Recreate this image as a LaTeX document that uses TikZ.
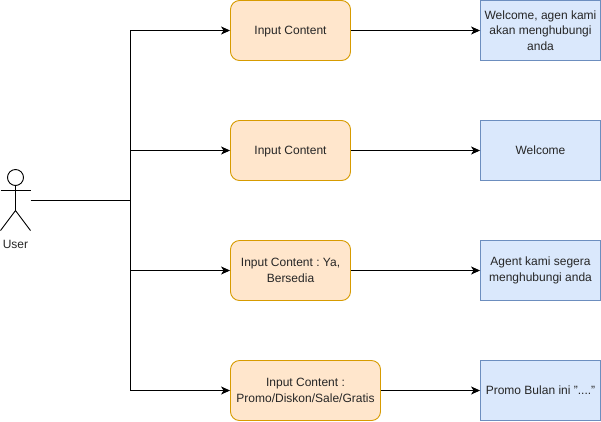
\documentclass[tikz,border=0pt]{standalone}
\usepackage{fontspec}
\setmainfont{Liberation Sans}
\usetikzlibrary{arrows.meta}
\frenchspacing
\definecolor{inputfill}{HTML}{FFE6CC}
\definecolor{inputline}{HTML}{D79B00}
\definecolor{replyfill}{HTML}{DAE8FC}
\definecolor{replyline}{HTML}{6C8EBF}
\tikzset{
  inputbox/.style={draw=inputline,fill=inputfill,rounded corners=9pt,minimum height=60pt,
    align=center,inner sep=1pt,text=black!85,font=\fontsize{12}{15.5}\selectfont,line width=0.9pt},
  replybox/.style={draw=replyline,fill=replyfill,minimum width=120pt,minimum height=60pt,
    align=center,inner sep=1pt,text=black!85,font=\fontsize{12}{15.5}\selectfont,line width=0.9pt},
  oneline/.style={text height=10pt,text depth=2.5pt},
  link/.style={draw=black,line width=0.9pt},
  arrowlink/.style={link,-{Stealth[length=9pt,width=8pt,inset=2.5pt]}}
}
\begin{document}
\begin{tikzpicture}[x=1pt,y=-1pt]
  \useasboundingbox (0,0) rectangle (601,421);
  % actor
  \node[draw,circle,minimum size=16pt,inner sep=0pt,line width=0.9pt] (head) at (15.5,177.5) {};
  \coordinate (hip) at (15.5,210.5);
  \coordinate (armL) at (0.5,190.5);
  \coordinate (armR) at (30.5,190.5);
  \coordinate (legL) at (0.5,230.5);
  \coordinate (legR) at (30.5,230.5);
  \draw[link] (head.south) -- (hip);
  \draw[link] (armL) -- (armR);
  \draw[link] (legL) -- (hip) -- (legR);
  \node[text=black!85,font=\fontsize{12}{15.5}\selectfont] (user) at (15.5,244) {User};
  % inputs
  \node[inputbox,oneline,minimum width=120pt] (input1) at (290.5,30.5) {Input Content};
  \node[inputbox,oneline,minimum width=120pt] (input2) at (290.5,150.5) {Input Content};
  \node[inputbox,minimum width=120pt] (input3) at (290.5,270.5) {Input Content : Ya,\\Bersedia};
  \node[inputbox,minimum width=150pt] (input4) at (305.5,390.5) {Input Content :\\Promo/Diskon/Sale/Gratis};
  % replies
  \node[replybox] (reply1) at (540.5,30.5) {Welcome, agen kami\\akan menghubungi\\anda};
  \node[replybox] (reply2) at (540.5,150.5) {Welcome};
  \node[replybox] (reply3) at (540.5,270.5) {Agent kami segera\\menghubungi anda};
  \node[replybox] (reply4) at (540.5,390.5) {Promo Bulan ini \char34....\char34};
  % links
  \coordinate (userport) at (30.5,200.5);
  \coordinate (branch) at (130.5,200.5);
  \draw[link] (userport) -- (branch);
  \foreach \i in {1,2,3,4} {
    \draw[arrowlink] (branch) |- (input\i.west);
    \draw[arrowlink] (input\i.east) -- (reply\i.west);
  }
\end{tikzpicture}
\end{document}
